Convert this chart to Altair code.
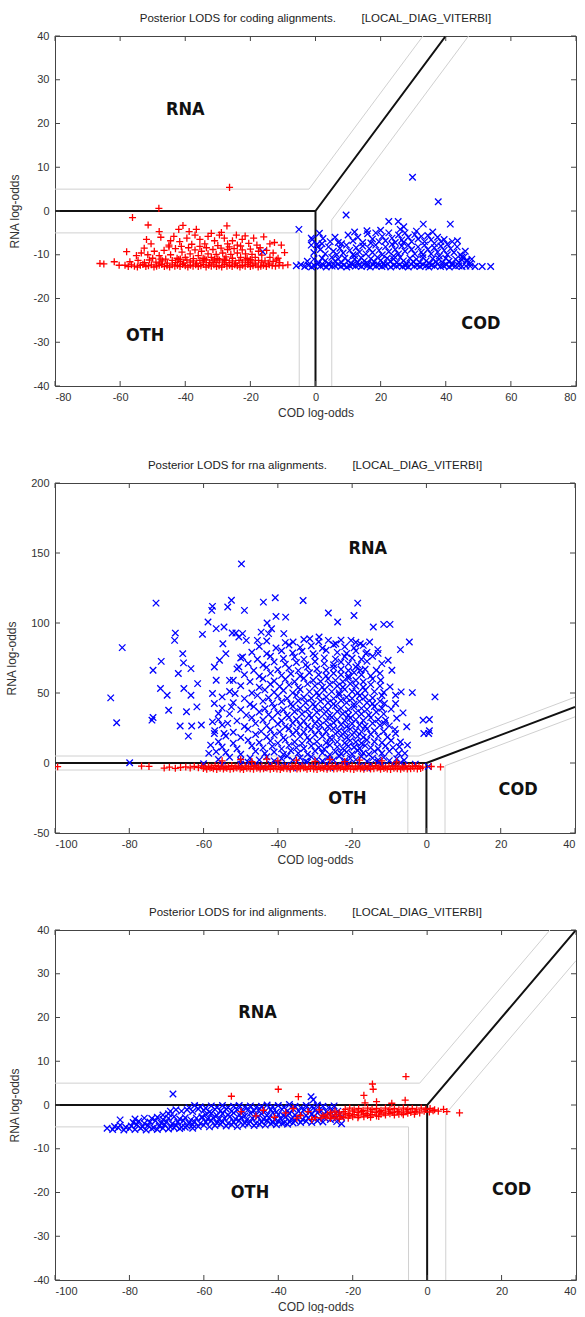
import altair as alt
import pandas as pd

NB = "\u00a0"

# ---------------- Panel 1: coding alignments ----------------
P1_TITLE = "Posterior LODS for coding alignments." + NB * 8 + "[LOCAL_DIAG_VITERBI]"
P1_XDOM = [-80, 80]
P1_YDOM = [-40, 40]
P1_XTICKS = [-80, -60, -40, -20, 0, 20, 40, 60, 80]
P1_YTICKS = [-40, -30, -20, -10, 0, 10, 20, 30, 40]

p1_red = [
    (-66.2, -12.0), (-65.0, -12.1), (-61.8, -11.6), (-60.3, -12.4), (-58.0, -9.3), (-56.2, -1.5),
    (-51.4, -3.2), (-48.1, 0.6), (-48.0, -4.7), (-26.4, 5.4), (-40.7, -3.3), (-27.2, -3.4),
    (-42.0, -4.2), (-36.6, -4.2), (-38.8, -4.7), (-32.0, -5.1), (-28.9, -4.9), (-24.3, -5.5),
    (-21.6, -5.7), (-15.9, -5.9), (-12.6, -7.2), (-51.9, -6.5), (-52.6, -8.5), (-41.7, -7.0), (-41.2, -8.1),
    (-50.5, -7.5), (-47.5, -6.0), (-45.0, -7.8), (-43.5, -5.8), (-39.5, -6.2), (-38.0, -7.6),
    (-35.5, -6.5), (-34.0, -7.5), (-33.0, -5.8), (-31.0, -6.8), (-30.0, -7.9), (-28.0, -6.2),
    (-27.0, -7.5), (-25.5, -6.8), (-24.0, -7.8), (-22.5, -6.5), (-20.5, -7.4), (-19.0, -6.2),
    (-18.0, -7.8), (-14.0, -7.5), (-29.5, -5.5), (-37.0, -5.5), (-44.5, -6.8), (-23.0, -8.0), (-10.5, -7.8),
    (-55.0, -10.2), (-53.5, -9.6), (-50.0, -10.8), (-49.5, -9.2), (-48.0, -10.2), (-46.5, -9.0),
    (-46.0, -11.0), (-44.5, -10.0), (-43.0, -8.6), (-42.5, -10.8), (-41.0, -9.4), (-40.0, -10.6),
    (-39.0, -8.4), (-38.5, -9.8), (-37.5, -10.9), (-37.0, -8.9), (-36.0, -10.2), (-35.0, -9.2),
    (-34.5, -10.8), (-33.5, -8.4), (-33.0, -9.8), (-32.0, -10.6), (-31.5, -8.8), (-30.5, -9.9),
    (-30.0, -10.9), (-29.0, -8.5), (-28.5, -9.6), (-27.5, -10.5), (-27.0, -8.8), (-26.0, -9.9),
    (-25.5, -10.8), (-25.0, -8.6), (-24.0, -9.6), (-23.0, -10.6), (-22.5, -8.9), (-21.5, -9.8),
    (-21.0, -10.8), (-20.0, -8.7), (-19.5, -9.9), (-18.5, -10.6), (-17.5, -9.2), (-16.5, -10.1),
    (-15.0, -9.0), (-14.0, -10.6), (-13.0, -9.6), (-11.5, -10.8), (-9.5, -9.5), (-45.0, -8.2),
    (-41.5, -11.0), (-35.5, -8.1), (-31.0, -11.0), (-26.5, -8.2), (-17.0, -8.4), (-51.5, -10.0), (-47.5, -11.0),
    (-57.0, -11.6), (-54.5, -11.3), (-52.5, -11.8), (-51.0, -11.2), (-49.0, -11.7), (-47.0, -11.4),
    (-45.5, -11.9), (-44.0, -11.3), (-43.0, -11.8), (-41.5, -11.5), (-40.5, -11.9), (-39.5, -11.2),
    (-38.5, -11.7), (-37.5, -11.4), (-36.5, -11.9), (-35.5, -11.3), (-34.5, -11.7), (-33.5, -11.2),
    (-32.5, -11.8), (-31.5, -11.4), (-30.5, -11.8), (-29.5, -11.2), (-28.5, -11.7), (-27.5, -11.3),
    (-26.5, -11.8), (-25.5, -11.4), (-24.5, -11.9), (-23.5, -11.3), (-22.5, -11.7), (-21.5, -11.2),
    (-20.5, -11.8), (-19.5, -11.4), (-18.5, -11.9), (-17.5, -11.3), (-16.5, -11.7), (-15.5, -11.4),
    (-14.5, -11.9), (-13.0, -11.5), (-11.0, -11.8), (-48.0, -11.9), (-42.0, -11.1), (-34.0, -11.0),
    (-28.0, -11.0), (-20.0, -11.1), (-12.0, -11.2),
]
p1_red_floor_x = [-58.5, -57.5, -56.5, -55.6, -54.7, -53.8, -53.0, -52.1, -51.3, -50.4, -49.6, -48.8,
                  -48.0, -47.2, -46.4, -45.6, -44.8, -44.0, -43.2, -42.4, -41.6, -40.8, -40.0, -39.2,
                  -38.4, -37.6, -36.8, -36.0, -35.2, -34.4, -33.6, -32.8, -32.0, -31.2, -30.4, -29.6,
                  -28.8, -28.0, -27.2, -26.4, -25.6, -24.8, -24.0, -23.2, -22.4, -21.6, -20.8, -20.0,
                  -19.2, -18.4, -17.6, -16.8, -16.0, -15.1, -14.2, -13.3, -12.3, -11.2, -10.0, -8.5]
p1_red_floor_y = [-12.4, -12.7, -12.3, -12.6, -12.8, -12.4, -12.2, -12.7, -12.5, -12.3, -12.8, -12.6,
                  -12.4, -12.2, -12.7, -12.5, -12.8, -12.3, -12.6, -12.4, -12.7, -12.2, -12.5, -12.8,
                  -12.4, -12.6, -12.3, -12.7, -12.5, -12.2, -12.8, -12.4, -12.6, -12.3, -12.7, -12.5,
                  -12.8, -12.2, -12.6, -12.4, -12.7, -12.3, -12.5, -12.8, -12.4, -12.6, -12.2, -12.7,
                  -12.5, -12.3, -12.8, -12.6, -12.4, -12.7, -12.3, -12.5, -12.6, -12.4, -12.5, -12.3]

p1_blue = [
    (29.8, 7.7), (37.7, 2.1), (9.4, -0.9), (-5.1, -4.2), (-16.2, -9.3), (-1.3, -6.2), (-1.3, -7.8),
    (22.5, -2.4), (25.4, -2.4), (27.1, -3.6), (33.1, -3.0), (41.4, -3.0), (43.6, -6.8), (15.8, -4.5),
    (1.2, -5.1), (-1.0, -6.5), (0.7, -8.2), (2.3, -6.3), (45.0, -10.5), (46.5, -11.2),
    (4.5, -7.0), (6.0, -6.0), (8.0, -7.5), (10.0, -5.5), (11.5, -6.8), (13.0, -6.0), (14.5, -7.2),
    (16.0, -5.2), (17.5, -6.4), (18.5, -5.0), (19.5, -7.0), (20.5, -5.8), (21.5, -6.8), (22.5, -5.0),
    (23.5, -6.2), (24.5, -7.2), (25.5, -5.5), (26.5, -6.6), (27.5, -5.0), (28.5, -6.0), (29.5, -7.0),
    (30.5, -5.4), (31.5, -6.4), (32.5, -5.8), (33.5, -7.0), (34.5, -5.6), (35.5, -6.6), (36.5, -7.4),
    (37.5, -6.0), (38.5, -7.0), (39.5, -6.5), (40.5, -7.6), (42.0, -7.0), (12.0, -4.8), (20.0, -4.4),
    (26.0, -4.2), (31.0, -4.6), (36.0, -4.8),
    (-0.5, -9.5), (1.5, -8.8), (3.0, -9.8), (4.0, -8.2), (5.5, -9.2), (6.5, -10.0), (7.5, -8.5),
    (8.5, -9.6), (9.5, -7.8), (10.5, -9.0), (11.5, -10.0), (12.5, -8.4), (13.5, -9.4), (14.5, -8.0),
    (15.5, -9.8), (16.5, -8.6), (17.5, -9.5), (18.5, -7.8), (19.5, -9.0), (20.5, -10.0), (21.5, -8.2),
    (22.5, -9.3), (23.5, -7.6), (24.5, -8.8), (25.5, -9.8), (26.5, -8.0), (27.5, -9.2), (28.5, -7.8),
    (29.5, -8.8), (30.5, -9.8), (31.5, -8.2), (32.5, -9.4), (33.5, -7.8), (34.5, -8.8), (35.5, -9.8),
    (36.5, -8.4), (37.5, -9.4), (38.5, -8.0), (39.5, -9.0), (40.5, -10.0), (41.5, -8.6), (42.5, -9.5),
    (43.5, -8.2), (44.5, -10.0), (46.0, -9.2), (2.0, -7.5), (7.0, -7.2), (17.0, -7.3), (27.0, -7.2),
    (33.0, -10.0), (12.0, -10.2), (24.0, -10.3), (38.0, -10.3), (0.5, -7.6), (45.5, -10.6),
    (-2.5, -11.5), (-0.5, -11.0), (1.0, -11.8), (2.0, -10.8), (3.0, -11.4), (4.0, -12.0), (5.0, -10.6),
    (6.0, -11.5), (7.0, -11.0), (8.0, -11.8), (9.0, -10.8), (10.0, -11.4), (11.0, -12.0), (12.0, -11.0),
    (13.0, -11.7), (14.0, -10.7), (15.0, -11.4), (16.0, -12.0), (17.0, -10.9), (18.0, -11.6),
    (19.0, -10.6), (20.0, -11.3), (21.0, -12.0), (22.0, -10.8), (23.0, -11.5), (24.0, -11.0),
    (25.0, -11.8), (26.0, -10.6), (27.0, -11.4), (28.0, -12.0), (29.0, -10.8), (30.0, -11.6),
    (31.0, -11.0), (32.0, -11.8), (33.0, -10.7), (34.0, -11.4), (35.0, -12.0), (36.0, -10.9),
    (37.0, -11.6), (38.0, -11.0), (39.0, -11.8), (40.0, -10.8), (41.0, -11.5), (42.0, -12.0),
    (43.0, -11.0), (44.0, -11.7), (45.0, -11.2), (46.5, -11.5), (47.5, -12.0), (48.0, -11.0),
]
p1_blue_floor_x = [-5.9, -4.5, -3.3, -2.2, -1.2, -0.3, 0.6, 1.5, 2.4, 3.3, 4.2, 5.1, 6.0, 6.9, 7.8, 8.7,
                   9.6, 10.5, 11.4, 12.3, 13.2, 14.1, 15.0, 15.9, 16.8, 17.7, 18.6, 19.5, 20.4, 21.3,
                   22.2, 23.1, 24.0, 24.9, 25.8, 26.7, 27.6, 28.5, 29.4, 30.3, 31.2, 32.1, 33.0, 33.9,
                   34.8, 35.7, 36.6, 37.5, 38.4, 39.3, 40.2, 41.1, 42.0, 43.0, 44.0, 45.0, 46.2, 47.5,
                   49.0, 51.2, 53.8]
p1_blue_floor_y = [-12.5, -12.3, -12.7, -12.4, -12.8, -12.5, -12.2, -12.6, -12.4, -12.8, -12.3, -12.6,
                   -12.5, -12.2, -12.7, -12.4, -12.8, -12.5, -12.3, -12.6, -12.4, -12.7, -12.2, -12.5,
                   -12.8, -12.3, -12.6, -12.4, -12.7, -12.5, -12.2, -12.8, -12.4, -12.6, -12.3, -12.7,
                   -12.5, -12.8, -12.2, -12.6, -12.4, -12.7, -12.3, -12.5, -12.8, -12.4, -12.6, -12.2,
                   -12.7, -12.5, -12.3, -12.8, -12.4, -12.6, -12.5, -12.7, -12.6, -12.6, -12.7, -12.7, -12.7]

P1_THICK = [[(-80, 0), (0, 0)], [(0, -40), (0, 0), (40, 40)]]
P1_THIN = [[(-80, 5), (-2, 5), (33, 40)], [(-80, -5), (-5, -5), (-5, -40)], [(5, -40), (5, -2), (47, 40)]]
P1_LABELS = [("RNA", -40.0, 23.1), ("OTH", -52.3, -28.6), ("COD", 50.8, -25.9)]

# ---------------- Panel 2: rna alignments ----------------
P2_TITLE = "Posterior LODS for rna alignments." + NB * 8 + "[LOCAL_DIAG_VITERBI]"
P2_XDOM = [-100, 40]
P2_YDOM = [-50, 200]
P2_XTICKS = [-100, -80, -60, -40, -20, 0, 20, 40]
P2_YTICKS = [-50, 0, 50, 100, 150, 200]

p2_blue = [
    (-49.8, 142.2), (-72.8, 114.2), (-81.9, 82.4), (-85.0, 46.5), (-83.4, 28.7), (-79.9, 0.2),
    (-73.6, 66.2), (-71.4, 72.6), (-71.6, 53.2), (-73.9, 30.6), (-73.6, 32.5), (-67.6, 92.8),
    (-67.8, 87.6), (-69.4, 37.7), (-69.8, 48.4), (-66.3, 26.4), (-65.6, 78.1), (-65.4, 71.5),
    (-66.8, 63.9), (-65.3, 53.2), (-64.1, 19.2), (-63.4, 67.4), (-64.6, 36.6), (-63.2, 26.4),
    (-61.8, 40.1), (-63.4, 48.4), (-61.6, 56.7), (-60.3, 91.9), (-60.6, 27.1), (-58.8, 100.7),
    (-57.6, 111.9), (-57.8, 109.0), (-56.6, 96.0), (-53.5, 111.4), (-52.5, 116.2), (-52.3, 92.9),
    (-51.3, 92.9), (-58.6, 6.9), (-49.0, 109.0), (-43.9, 114.9), (-40.7, 118.0), (-42.9, 100.0),
    (-41.7, 95.9), (-40.5, 104.7), (-37.9, 104.2), (-33.2, 116.1), (-26.4, 107.1), (-23.9, 100.7),
    (-19.5, 105.4), (-18.5, 114.2), (-11.5, 99.0), (-9.8, 99.0), (-4.6, 86.4), (-7.0, 81.0),
    (-3.8, 50.3), (-0.9, 30.6), (0.8, 31.1), (2.3, 47.2), (0.8, 23.0), (0.6, 21.1), (-0.7, 21.1),
    (-13.1, 81.0), (-10.3, 73.4), (-9.3, 66.2), (-9.8, 54.4), (-8.3, 48.4), (-6.8, 50.8), (-6.3, 35.8),
    (-5.3, 25.9), (-5.1, 12.8), (-8.3, 42.5), (-20.3, 87.6), (-24.4, 85.2), (-26.4, 87.6), (-28.9, 90.0),
    (-31.4, 88.8), (-35.9, 86.4), (-38.4, 92.4), (-42.5, 92.4), (-44.5, 93.5), (-45.5, 87.6),
    (-48.5, 87.6), (-49.5, 92.4), (-50.5, 90.0), (-54.5, 97.1), (-54.8, 85.2), (-54.0, 78.1),
    (-55.7, 73.4), (-57.1, 68.6), (-56.6, 59.1), (-57.6, 49.6), (-57.1, 42.5), (-56.0, 35.4),
    (-57.6, 29.4), (-57.1, 21.1), (-58.1, 12.8), (-56.6, 8.1), (-54.5, 21.1), (-53.5, 28.3),
    (-52.5, 40.1), (-51.5, 49.6), (-52.0, 59.1), (-50.5, 68.6), (-49.5, 75.7), (-14.3, 97.1),
    (-15.3, 86.4), (-17.8, 85.2), (-16.3, 78.1), (-17.8, 66.2), (-12.3, 59.1), (-11.3, 42.5),
    (-11.3, 28.3), (-8.3, 21.1), (-7.3, 11.6), (-5.8, 6.9),
    # dense core
    (-56, 2.5), (-53, 4.1), (-50, 1.8), (-47.5, 3.6), (-45, 2.2), (-43, 4.5), (-41, 1.5), (-39, 3.2),
    (-37.5, 5.0), (-36, 2.0), (-34, 3.8), (-32.5, 1.2), (-31, 4.4), (-29.5, 2.6), (-28, 1.4), (-26.5, 3.9),
    (-25, 2.1), (-23.5, 4.8), (-22, 1.6), (-20.5, 3.3), (-19, 2.4), (-17.5, 4.6), (-16, 1.3), (-14.5, 3.5),
    (-13, 2.2), (-11.5, 4.0), (-10, 1.7), (-8, 3.1), (-6, 2.0),
    (-54, 7.5), (-50, 6.2), (-46, 8.4), (-43.5, 6.8), (-41, 7.9), (-38.5, 6.1), (-36.5, 8.8), (-34.5, 7.0),
    (-32, 6.3), (-30, 8.6), (-28, 7.2), (-26, 6.0), (-24.5, 8.1), (-23, 6.6), (-21.5, 7.8), (-20, 6.4),
    (-18.5, 8.9), (-17, 7.1), (-15.5, 6.2), (-14, 8.3), (-12, 7.0), (-10, 8.5), (-7.5, 6.8),
    (-55, 11.4), (-51, 10.2), (-47, 12.3), (-44, 10.8), (-41.5, 11.9), (-39, 10.1), (-37, 12.6), (-35, 11.0),
    (-33, 10.4), (-31, 12.2), (-29, 11.1), (-27.5, 10.0), (-26, 12.8), (-24, 11.5), (-22.5, 10.3), (-21, 12.0),
    (-19.5, 11.2), (-18, 10.5), (-16.5, 12.4), (-15, 11.0), (-13, 10.2), (-11, 12.1), (-9, 11.0),
    (-56, 15.2), (-52, 14.1), (-48, 16.3), (-45, 14.6), (-42, 15.8), (-40, 14.2), (-38, 16.5), (-35.5, 15.0),
    (-33.5, 14.0), (-31.5, 16.2), (-29.5, 15.3), (-27, 14.4), (-25.5, 16.7), (-24, 15.1), (-22, 14.3),
    (-20.5, 16.0), (-19, 15.0), (-17.5, 14.1), (-16, 16.4), (-14, 15.2), (-12, 14.5), (-9.5, 16.1), (-7, 15.0),
    (-54, 19.3), (-50, 18.2), (-46, 20.4), (-43, 18.8), (-41, 19.9), (-38.5, 18.1), (-36, 20.6), (-34, 19.0),
    (-32, 18.3), (-30, 20.2), (-28, 19.1), (-26, 18.0), (-24.5, 20.8), (-23, 19.4), (-21.5, 18.2), (-20, 20.1),
    (-18.5, 19.0), (-17, 18.4), (-15, 20.5), (-13, 19.2), (-10.5, 18.6),
    (-57, 23.1), (-52, 22.0), (-48, 24.2), (-44.5, 22.6), (-42, 23.8), (-39.5, 22.2), (-37, 24.5), (-35, 23.0),
    (-33, 22.1), (-31, 24.1), (-29, 23.2), (-27, 22.3), (-25, 24.7), (-23.5, 23.1), (-22, 22.0), (-20.5, 24.2),
    (-19, 23.0), (-17.5, 22.4), (-16, 24.4), (-14, 23.1), (-11.5, 22.5), (-8.5, 24.0),
    (-55, 27.2), (-49, 26.1), (-46, 28.3), (-43, 26.7), (-40, 27.9), (-38, 26.0), (-36, 28.6), (-34, 27.1),
    (-32, 26.2), (-30, 28.2), (-28.5, 27.0), (-26.5, 26.1), (-25, 28.8), (-23, 27.3), (-21.5, 26.1), (-20, 28.0),
    (-18, 27.1), (-16.5, 26.3), (-14.5, 28.4), (-12.5, 27.0), (-10, 26.5),
    (-56, 31.0), (-51, 30.1), (-47, 32.3), (-44, 30.7), (-41.5, 31.9), (-39, 30.2), (-37, 32.6), (-35, 31.1),
    (-33, 30.0), (-31, 32.2), (-29, 31.2), (-27, 30.3), (-25.5, 32.7), (-24, 31.0), (-22, 30.2), (-20.5, 32.1),
    (-19, 31.0), (-17, 30.4), (-15, 32.4), (-13, 31.1), (-11, 30.5), (-8, 32.0),
    (-53, 35.1), (-48.5, 34.2), (-45, 36.4), (-42.5, 34.7), (-40, 35.9), (-37.5, 34.1), (-35.5, 36.6),
    (-33.5, 35.0), (-31.5, 34.2), (-29.5, 36.2), (-27.5, 35.1), (-26, 34.0), (-24, 36.8), (-22.5, 35.2),
    (-21, 34.1), (-19, 36.0), (-17.5, 35.0), (-15.5, 34.3), (-13.5, 36.4), (-11.5, 35.1),
    (-55, 39.2), (-50, 38.1), (-46.5, 40.3), (-43.5, 38.7), (-41, 39.9), (-38.5, 38.0), (-36, 40.6), (-34, 39.1),
    (-32, 38.2), (-30, 40.2), (-28, 39.0), (-26.5, 38.1), (-24.5, 40.8), (-23, 39.2), (-21, 38.0), (-19.5, 40.1),
    (-17.5, 39.0), (-16, 38.3), (-14, 40.4), (-12, 39.1), (-9.5, 38.5),
    (-52, 43.1), (-47.5, 42.0), (-44, 44.2), (-41.5, 42.6), (-39, 43.8), (-36.5, 42.1), (-34.5, 44.5),
    (-32.5, 43.0), (-30.5, 42.2), (-28.5, 44.1), (-26.5, 43.0), (-25, 42.1), (-23, 44.6), (-21.5, 43.1),
    (-19.5, 42.0), (-18, 44.0), (-16, 43.0), (-14.5, 42.3), (-12.5, 44.2),
    (-55, 47.2), (-49, 46.0), (-45.5, 48.3), (-42.5, 46.6), (-40, 47.8), (-37.5, 46.1), (-35, 48.5), (-33, 47.0),
    (-31, 46.2), (-29, 48.1), (-27, 47.1), (-25, 46.0), (-23.5, 48.7), (-21.5, 47.0), (-20, 46.1), (-18, 48.0),
    (-16.5, 47.1), (-14.5, 46.4), (-12, 48.2),
    (-53, 51.1), (-47, 50.0), (-43.5, 52.2), (-41, 50.6), (-38.5, 51.8), (-36, 50.1), (-34, 52.5), (-31.5, 51.0),
    (-29.5, 50.2), (-27.5, 52.1), (-25.5, 51.0), (-23.5, 50.1), (-22, 52.6), (-20, 51.1), (-18.5, 50.0),
    (-16.5, 52.0), (-14, 51.0), (-11.5, 50.4),
    (-50, 55.2), (-45, 54.1), (-42, 56.3), (-39.5, 54.6), (-37, 55.8), (-34.5, 54.0), (-32, 56.5), (-30, 55.1),
    (-28, 54.2), (-26, 56.1), (-24, 55.0), (-22.5, 54.1), (-20.5, 56.6), (-19, 55.0), (-17, 54.1), (-15, 56.0),
    (-12.5, 55.1),
    (-53, 59.0), (-47.5, 58.1), (-44, 60.2), (-41, 58.6), (-38, 59.8), (-35.5, 58.0), (-33, 60.5), (-30.5, 59.1),
    (-28.5, 58.2), (-26.5, 60.1), (-24.5, 59.0), (-22.5, 58.0), (-21, 60.6), (-19, 59.1), (-17, 58.0), (-14.5, 60.1),
    (-49, 63.1), (-45, 62.0), (-42, 64.2), (-39, 62.6), (-36.5, 63.8), (-34, 62.1), (-31.5, 64.5), (-29, 63.0),
    (-27, 62.2), (-25, 64.1), (-23, 63.0), (-21, 62.1), (-19.5, 64.6), (-17.5, 63.0), (-15, 62.2), (-12.5, 64.0),
    (-51, 67.2), (-46.5, 66.1), (-43, 68.3), (-40, 66.6), (-37, 67.8), (-34.5, 66.0), (-32, 68.5), (-29.5, 67.1),
    (-27, 66.2), (-25, 68.1), (-23, 67.0), (-21, 66.1), (-19, 68.6), (-16.5, 67.0), (-13.5, 66.3),
    (-48, 71.1), (-44, 70.0), (-41, 72.2), (-38, 70.6), (-35, 71.8), (-32.5, 70.1), (-30, 72.5), (-27.5, 71.0),
    (-25, 70.2), (-23, 72.1), (-21, 71.0), (-18.5, 70.1), (-16, 72.6), (-12, 71.0),
    (-50, 75.0), (-45.5, 74.1), (-42, 76.2), (-38.5, 74.6), (-35.5, 75.8), (-33, 74.0), (-30, 76.5),
    (-27.5, 75.1), (-24.5, 74.2), (-22, 76.1), (-20, 75.0), (-17.5, 74.1), (-14.5, 76.3),
    (-47, 79.1), (-43, 78.0), (-39, 80.2), (-36, 78.6), (-33.5, 79.8), (-30.5, 78.1), (-27, 80.5), (-24, 79.0),
    (-21.5, 78.2), (-19, 80.1), (-16, 79.0), (-13, 78.3),
    (-45, 83.2), (-40.5, 82.1), (-37, 84.3), (-34, 82.6), (-31, 83.8), (-28, 82.0), (-25, 84.5), (-22, 83.1),
    (-19.5, 82.2), (-17, 84.0),
    (-43, 87.1), (-38, 86.0), (-33, 88.2), (-29, 86.6), (-23, 87.8), (-19, 86.2),
    # along the RNA/OTH boundary
    (-60, -0.5), (-55, -1.5), (-50, -0.8), (-46, -2.0), (-42, -0.6), (-38, -1.8), (-34, -0.9), (-30, -2.2),
    (-27, -0.7), (-24, -1.6), (-21, -0.5), (-18, -2.0), (-15, -1.0), (-12, -1.8), (-9, -0.6), (-6, -1.5),
    (-3, -0.8), (0.5, -2.5), (-44, -3.0), (-36, -3.5), (-26, -3.2), (-16, -3.4), (-48, 0.5), (-40, 0.2),
    (-32, 0.6), (-22, 0.3), (-13, 0.5), (-7, 0.2),
]
p2_red = [
    (-99.3, -2.6), (-76.7, -2.2), (-74.7, -2.4), (-70.6, -3.6), (-69.2, -3.0), (-67.6, -3.8), (-66.2, -3.2),
    (-64.8, -2.8), (-63.6, -3.5), (-62.5, -2.4), (-61.4, -3.3),
    (-55, 1.5), (-50, 2.5), (-47, 1.0), (-43, 2.8), (-40, 1.5), (-35, 2.0), (-30, 1.2), (-26, 2.5),
    (-22, 1.0), (-18, 2.0), (-12, 1.5), (-8, 0.8), (1.3, -2.5), (3.8, -2.8), (-1.0, -3.0),
]
p2_red_band_x = [-60.5, -59.6, -58.7, -57.8, -56.9, -56.0, -55.1, -54.2, -53.3, -52.4, -51.5, -50.6,
                 -49.7, -48.8, -47.9, -47.0, -46.1, -45.2, -44.3, -43.4, -42.5, -41.6, -40.7, -39.8,
                 -38.9, -38.0, -37.1, -36.2, -35.3, -34.4, -33.5, -32.6, -31.7, -30.8, -29.9, -29.0,
                 -28.1, -27.2, -26.3, -25.4, -24.5, -23.6, -22.7, -21.8, -20.9, -20.0, -19.1, -18.2,
                 -17.3, -16.4, -15.5, -14.6, -13.7, -12.8, -11.9, -11.0, -10.1, -9.2, -8.3, -7.4,
                 -6.5, -5.6, -4.7, -3.8, -2.9, -2.0]
p2_red_band_y1 = [-2.1, -2.9, -2.4, -3.1, -1.8, -2.6, -2.2, -3.0, -2.5, -1.9, -2.8, -2.3,
                  -3.1, -2.0, -2.7, -2.4, -1.8, -2.9, -2.2, -3.0, -2.5, -1.9, -2.7, -2.3,
                  -3.1, -2.1, -2.6, -2.4, -1.8, -2.9, -2.2, -3.0, -2.5, -2.0, -2.8, -2.3,
                  -3.1, -2.1, -2.6, -2.4, -1.9, -2.9, -2.2, -3.0, -2.5, -2.0, -2.8, -2.3,
                  -3.0, -2.1, -2.6, -2.4, -1.9, -2.8, -2.2, -3.0, -2.5, -2.0, -2.7, -2.3,
                  -2.9, -2.1, -2.6, -2.4, -2.0, -2.5]
p2_red_band_y2 = [-3.9, -4.4, -3.6, -4.1, -4.6, -3.8, -4.3, -3.7, -4.5, -4.0, -3.6, -4.2,
                  -4.6, -3.8, -4.1, -4.4, -3.7, -4.3, -4.0, -3.6, -4.5, -3.9, -4.2, -4.6,
                  -3.8, -4.1, -4.4, -3.7, -4.3, -4.0, -3.6, -4.5, -3.9, -4.2, -4.6, -3.8,
                  -4.1, -4.4, -3.7, -4.3, -4.0, -3.6, -4.5, -3.9, -4.2, -4.6, -3.8, -4.1,
                  -4.4, -3.7, -4.3, -4.0, -3.6, -4.5, -3.9, -4.2, -4.6, -3.8, -4.1, -4.4,
                  -3.7, -4.3, -4.0, -3.8, -4.2, -3.9]

P2_THICK = [[(-100, 0), (0, 0)], [(0, -50), (0, 0), (40, 40)]]
P2_THIN = [[(-100, 5), (-2, 5), (40, 47)], [(-100, -5), (-5, -5), (-5, -50)], [(5, -50), (5, -2), (40, 33)]]
P2_LABELS = [("RNA", -15.8, 153.0), ("OTH", -21.3, -25.9), ("COD", 24.7, -19.2)]

# ---------------- Panel 3: ind alignments ----------------
P3_TITLE = "Posterior LODS for ind alignments." + NB * 8 + "[LOCAL_DIAG_VITERBI]"
P3_XDOM = [-100, 40]
P3_YDOM = [-40, 40]
P3_XTICKS = [-100, -80, -60, -40, -20, 0, 20, 40]
P3_YTICKS = [-40, -30, -20, -10, 0, 10, 20, 30, 40]

p3_blue = [
    (-64, -0.6), (-62.5, -0.1), (-61, -0.4), (-59.5, -0.7), (-58, -0.2), (-56.5, -0.5), (-55, -0.1),
    (-53.5, -0.6), (-52, -0.3), (-50.5, -0.1), (-49, -0.5), (-47.5, -0.2), (-46, -0.6), (-44.5, -0.3),
    (-43, 0.0), (-41.5, -0.4), (-40, -0.1), (-38.5, -0.5), (-37, 0.1), (-35.5, -0.3), (-34, -0.6),
    (-32.5, -0.1), (-31, -0.4), (-29.5, 0.0), (-28, -0.3), (-26.5, -0.6), (-25, -0.2),
    (-69, -1.4), (-67.5, -1.1), (-66, -1.4), (-64.5, -1.1), (-63, -1.5), (-61.5, -0.9), (-60, -1.2),
    (-58.5, -1.6), (-57, -1.0), (-55.5, -1.3), (-54, -0.9), (-52.5, -1.4), (-51, -1.1), (-49.5, -1.5),
    (-48, -1.0), (-46.5, -1.3), (-45, -0.9), (-43.5, -1.4), (-42, -1.1), (-40.5, -1.6), (-39, -1.0),
    (-37.5, -1.3), (-36, -0.9), (-34.5, -1.4), (-33, -1.1), (-31.5, -1.5), (-30, -1.0), (-28.5, -1.3),
    (-27, -1.6), (-25.5, -1.1), (-24, -1.4),
    (-71, -2.3), (-69.5, -2.0), (-59.5, -2.2), (-58, -1.9), (-56.5, -2.4), (-55, -2.0), (-53.5, -2.3),
    (-52, -1.8), (-50.5, -2.2), (-49, -2.5), (-47.5, -1.9), (-46, -2.3), (-44.5, -2.0), (-43, -2.4),
    (-41.5, -1.8), (-40, -2.2), (-38.5, -2.5), (-37, -2.0), (-35.5, -2.3), (-34, -1.9), (-32.5, -2.4),
    (-31, -2.1), (-29.5, -1.8), (-28, -2.3), (-26.5, -2.0), (-25, -2.4), (-23.5, -2.1), (-60.5, -2.9),
    (-74, -3.1), (-72.5, -2.8), (-71, -3.3), (-69.5, -3.0), (-68, -2.7), (-66.5, -3.2), (-65, -2.9),
    (-63.5, -3.4), (-62, -3.0), (-60.5, -2.7), (-59, -3.2), (-57.5, -2.9), (-56, -3.3), (-54.5, -3.0),
    (-53, -2.7), (-51.5, -3.2), (-50, -2.9), (-48.5, -3.4), (-47, -3.0), (-45.5, -2.7), (-44, -3.2),
    (-42.5, -2.9), (-41, -3.3), (-39.5, -3.0), (-38, -2.7), (-36.5, -3.2), (-35, -2.9), (-33.5, -3.3),
    (-32, -3.0), (-30.5, -2.7), (-29, -3.2), (-27.5, -2.9), (-26, -3.3), (-24.5, -3.0), (-23, -2.8),
    (-79, -4.0), (-77.5, -3.7), (-76, -4.2), (-74.5, -3.9), (-73, -3.6), (-71.5, -4.1), (-70, -3.8),
    (-68.5, -4.3), (-67, -3.9), (-65.5, -3.6), (-64, -4.1), (-62.5, -3.8), (-61, -4.2), (-59.5, -3.9),
    (-58, -3.6), (-56.5, -4.1), (-55, -3.8), (-53.5, -4.2), (-52, -3.9), (-50.5, -3.6), (-49, -4.1),
    (-47.5, -3.8), (-46, -4.2), (-44.5, -3.9), (-43, -3.6), (-41.5, -4.0), (-40, -3.7), (-38.5, -4.1),
    (-37, -3.8), (-35.5, -3.6), (-34, -4.0), (-32.5, -3.7), (-31, -4.0), (-29.5, -3.6), (-28, -3.9),
    (-24.3, -3.8), (-23, -4.3),
    (-84, -4.9), (-82.5, -4.6), (-81, -5.1), (-79.5, -4.8), (-78, -4.5), (-76.5, -5.0), (-75, -4.7),
    (-73.5, -5.2), (-72, -4.8), (-70.5, -4.5), (-69, -5.0), (-67.5, -4.7), (-66, -5.1), (-64.5, -4.8),
    (-63, -4.5), (-61.5, -4.9), (-60, -4.6), (-58.5, -5.0), (-57, -4.7), (-55.5, -4.4), (-54, -4.8),
    (-52.5, -4.5), (-51, -4.9), (-49.5, -4.6), (-48, -4.3), (-46.5, -4.7), (-45, -4.4), (-43.5, -4.6),
    (-42, -4.3), (-40.5, -4.5), (-39, -4.2), (-37.5, -4.4), (-36, -4.1),
    (-86, -5.3), (-84.5, -5.6), (-83, -5.2), (-81.5, -5.7), (-80, -5.4), (-78.5, -5.6), (-77, -5.3),
    (-75.5, -5.7), (-74, -5.4), (-72.5, -5.6), (-71, -5.3), (-69.5, -5.5), (-68, -5.2), (-66.5, -5.4),
    (-65, -5.1), (-63, -5.3),
    (-68.3, 2.5), (-31.2, 1.9), (-30.6, 1.2), (-82.5, -3.4), (-78.5, -3.2), (-76, -3.0),
]
p3_red = [
    (-22, -1.0), (-20.8, -0.7), (-19.6, -1.1), (-18.4, -0.8), (-17.2, -1.2), (-16, -0.7), (-14.8, -1.0),
    (-13.6, -0.8), (-12.4, -1.2), (-11.2, -0.7), (-10, -1.0), (-8.8, -0.8), (-7.6, -1.1), (-6.4, -0.7),
    (-5.2, -1.0), (-4, -0.8), (-2.8, -1.1), (-1.6, -0.7), (-0.4, -1.0), (0.8, -0.8), (2.0, -1.1),
    (-26, -1.7), (-24.8, -1.4), (-23.6, -1.8), (-22.4, -1.5), (-21.2, -1.9), (-20, -1.4), (-18.8, -1.7),
    (-17.6, -1.5), (-16.4, -1.9), (-15.2, -1.4), (-14, -1.7), (-12.8, -1.5), (-11.6, -1.8), (-10.4, -1.4),
    (-9.2, -1.7), (-8, -1.5), (-6.8, -1.8), (-5.6, -1.4), (-4.4, -1.7), (-3.2, -1.5), (-2, -1.8),
    (-0.8, -1.4), (0.6, -1.6), (1.6, -1.3),
    (-28, -2.4), (-26.8, -2.1), (-25.6, -2.5), (-24.4, -2.2), (-23.2, -2.6), (-22, -2.1), (-20.8, -2.4),
    (-19.6, -2.2), (-18.4, -2.5), (-17.2, -2.1), (-16, -2.4), (-14.8, -2.2), (-13.6, -2.5), (-12.4, -2.1),
    (-11.2, -2.3), (-10, -2.0), (-8.8, -2.3), (-7.6, -2.1), (-6.4, -2.2), (-5.2, -1.9), (-3.4, -2.1),
    (-28.5, -3.0), (-27.2, -2.8), (-26, -3.1), (-24.8, -2.9), (-23.6, -3.2), (-22.4, -2.8), (-21.2, -3.0),
    (-20, -2.7), (-18.6, -2.9), (-17, -2.7), (-15.2, -2.8), (-13, -2.6),
    (-50, -1.5), (-46, -2.5), (-44, -1.2), (-41, -2.8), (-38, -1.8), (-36, -0.8), (-34, -2.4), (-32, -1.5),
    (-30, -2.9), (-29, -1.1), (-31, -3.3), (-35, -3.0),
    (-52.6, 2.0), (-40, 3.6), (-34.6, 1.9), (-17, 2.2), (-14.7, 4.8), (-14.5, 3.6), (-16.7, 0.5),
    (-5.7, 6.5), (-13.6, 0.75), (-5.9, 1.1), (4.4, -1.0), (5.3, -1.5), (8.7, -1.8), (-9.5, 0.4), (3.0, -1.4),
]

P3_THICK = [[(-100, 0), (0, 0)], [(0, -40), (0, 0), (40, 40)]]
P3_THIN = [[(-100, 5), (-2, 5), (33, 40)], [(-100, -5), (-5, -5), (-5, -40)], [(5, -40), (5, -2), (40, 33)]]
P3_LABELS = [("RNA", -45.6, 21.0), ("OTH", -47.6, -20.2), ("COD", 22.7, -19.4)]

# ---------------- styling ----------------
H = 350
FONT = "Liberation Sans"
LABEL_FONT = "DejaVu Sans Condensed, Liberation Sans Narrow, Liberation Sans"
AXIS_COLOR = "#444444"
PLUS = "M-1,0L1,0M0,-1L0,1"
CROSS = "M-1,-1L1,1M-1,1L1,-1"
TICK_LEN = 5
LABEL_EXPR = "datum.value < 0 ? '-' + abs(datum.value) : '' + datum.value"


def points_df(pairs, fx=None, fy=None):
    xs = [p[0] for p in pairs]
    ys = [p[1] for p in pairs]
    if fx is not None:
        xs = xs + list(fx)
        ys = ys + list(fy)
    return pd.DataFrame({"x": xs, "y": ys})


def lines_df(segs):
    rows = []
    for s, seg in enumerate(segs):
        for i, (x, y) in enumerate(seg):
            rows.append({"seg": s, "i": i, "x": x, "y": y})
    return pd.DataFrame(rows)


def panel(title, xdom, ydom, xticks, yticks, red_df, blue_df, thick, thin, labels, W):
    xs = alt.Scale(domain=xdom, nice=False, zero=False)
    ys = alt.Scale(domain=ydom, nice=False, zero=False)
    xaxis = alt.Axis(values=xticks, title="COD log-odds", labelExpr=LABEL_EXPR,
                     labelPadding=5, titlePadding=5)
    yaxis = alt.Axis(values=yticks, title="RNA log-odds", labelExpr=LABEL_EXPR,
                     labelPadding=6, titlePadding=12)
    X = alt.X("x:Q", scale=xs, axis=xaxis)
    Y = alt.Y("y:Q", scale=ys, axis=yaxis)

    thin_l = alt.Chart(lines_df(thin)).mark_line(color="#d0d0d0", strokeWidth=1, clip=True).encode(
        x=X, y=Y, detail="seg:N", order="i:Q")
    thick_l = alt.Chart(lines_df(thick)).mark_line(color="#111111", strokeWidth=2, clip=True).encode(
        x=X, y=Y, detail="seg:N", order="i:Q")
    blue = alt.Chart(blue_df).mark_point(shape=CROSS, size=42, filled=False, color="#0000ff",
                                         strokeWidth=1.3, opacity=1, clip=True).encode(x=X, y=Y)
    red = alt.Chart(red_df).mark_point(shape=PLUS, size=50, filled=False, color="#ff0000",
                                       strokeWidth=1.3, opacity=1, clip=True).encode(x=X, y=Y)

    lab_df = pd.DataFrame({"t": [l[0] for l in labels], "x": [l[1] for l in labels],
                           "y": [l[2] for l in labels]})
    text = alt.Chart(lab_df).mark_text(font=LABEL_FONT, fontSize=18, fontWeight="bold",
                                       color="#111111", align="center", baseline="middle").encode(
        x=X, y=Y, text="t:N")

    xt = pd.DataFrame({"x": xticks})
    yt = pd.DataFrame({"y": yticks})
    tb = alt.Chart(xt).mark_rule(color=AXIS_COLOR, strokeWidth=1).encode(
        x=X, y=alt.value(H), y2=alt.value(H - TICK_LEN))
    tt = alt.Chart(xt).mark_rule(color=AXIS_COLOR, strokeWidth=1).encode(
        x=X, y=alt.value(0), y2=alt.value(TICK_LEN))
    tl = alt.Chart(yt).mark_rule(color=AXIS_COLOR, strokeWidth=1).encode(
        y=Y, x=alt.value(0), x2=alt.value(TICK_LEN))
    tr = alt.Chart(yt).mark_rule(color=AXIS_COLOR, strokeWidth=1).encode(
        y=Y, x=alt.value(W), x2=alt.value(W - TICK_LEN))

    return alt.layer(thin_l, thick_l, blue, red, text, tb, tt, tl, tr).properties(
        width=W, height=H,
        title=alt.TitleParams(title, font=FONT, fontSize=11.5, fontWeight="normal", color="#222222",
                              anchor="middle", frame="group", offset=6))


p1 = panel(P1_TITLE, P1_XDOM, P1_YDOM, P1_XTICKS, P1_YTICKS,
           points_df(p1_red, p1_red_floor_x, p1_red_floor_y),
           points_df(p1_blue, p1_blue_floor_x, p1_blue_floor_y),
           P1_THICK, P1_THIN, P1_LABELS, 521)
p2 = panel(P2_TITLE, P2_XDOM, P2_YDOM, P2_XTICKS, P2_YTICKS,
           points_df(p2_red + list(zip(p2_red_band_x, p2_red_band_y1)),
                     [x + 0.45 for x in p2_red_band_x], p2_red_band_y2),
           points_df(p2_blue), P2_THICK, P2_THIN, P2_LABELS, 520)
p3 = panel(P3_TITLE, P3_XDOM, P3_YDOM, P3_XTICKS, P3_YTICKS,
           points_df(p3_red), points_df(p3_blue), P3_THICK, P3_THIN, P3_LABELS, 521)

chart = alt.vconcat(p1, p2, p3, spacing=40).properties(
    padding={"left": 5, "top": 12, "right": 0, "bottom": 0},
    background="white",
).configure_view(stroke=AXIS_COLOR, strokeWidth=1).configure_axis(
    domain=False, ticks=False, grid=False,
    labelFont=FONT, labelFontSize=11, labelColor="#333333",
    titleFont=FONT, titleFontSize=12, titleFontWeight="normal", titleColor="#333333",
)

chart.save("out.html", embed_options={"renderer": "svg", "actions": False})
